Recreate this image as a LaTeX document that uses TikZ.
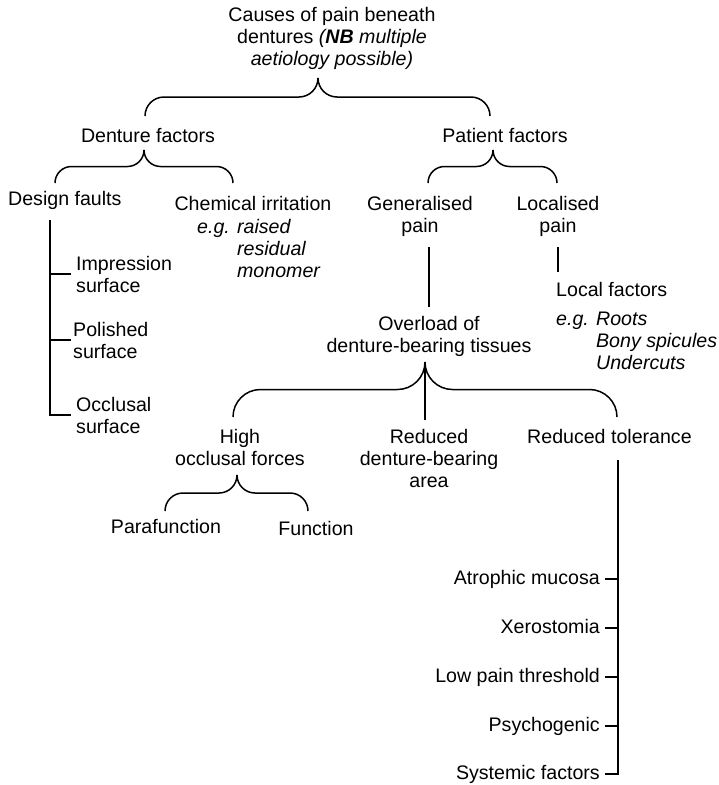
\documentclass[tikz,border=0pt]{standalone}
\usepackage{fontspec}
\setmainfont{Liberation Sans}
\usetikzlibrary{calc}

\begin{document}
\begin{tikzpicture}[
  x=1pt, y=-1pt,
  every node/.style={inner sep=0pt, font=\fontsize{19.6}{22}\selectfont},
  txt/.style={align=center, anchor=base},
  txtl/.style={align=left, anchor=base west},
  txtr/.style={anchor=east, text height=14pt, text depth=4pt},
  ln/.style={line width=1.5pt},
  brc/.style={ln, rounded corners=#1,
    to path={|- ($(\tikztotarget |- \tikztostart)!.5!(\tikztotarget)$) -- (\tikztotarget)}}
]
  \useasboundingbox (0,0) rectangle (719,785);

  % top level (multi-line nodes sit on their last baseline)
  \node[txt] (cause) at (332,65) {Causes of pain beneath\\dentures \textit{(\textbf{NB} multiple}\\\textit{aetiology possible)}};
  \node[txt] (dfac) at (148,142) {Denture factors};
  \node[txt] (pfac) at (505,142) {Patient factors};
  \coordinate (b1t) at (318,78);
  \coordinate (b1l) at (145,116);
  \coordinate (b1r) at (490,116);
  \draw[brc=19] (b1l) to (b1t) (b1r) to (b1t);

  % denture factors
  \coordinate (b2t) at (144,150);
  \coordinate (b2l) at (55,183);
  \coordinate (b2r) at (233,183);
  \draw[brc=16.5] (b2l) to (b2t) (b2r) to (b2t);
  \node[txtl] (design) at (8,205) {Design faults};
  \node[txt] (chem) at (253,210) {Chemical irritation};
  \node[anchor=base west] (chemeg) at (197,233) {\itshape\begin{tabular}[t]{@{}l@{ }l@{}}e.g. & raised\\ & residual\\ & monomer\end{tabular}};
  \node[txtl] (imp) at (76,292) {Impression\\surface};
  \node[txtl] (pol) at (73,358) {Polished\\surface};
  \node[txtl] (occ) at (76,433) {Occlusal\\surface};
  \coordinate (dsp) at (50,220);
  \draw[ln] (dsp) |- ([xshift=-5pt]occ.west);
  \draw[ln] (imp.west -| dsp) -- ([xshift=-5pt]imp.west);
  \draw[ln] (pol.west -| dsp) -- ([xshift=-2pt]pol.west);

  % patient factors
  \coordinate (b3t) at (493,150);
  \coordinate (b3l) at (428,183);
  \coordinate (b3r) at (557,183);
  \draw[brc=16.5] (b3l) to (b3t) (b3r) to (b3t);
  \node[txt] (gen) at (420,232) {Generalised\\pain};
  \node[txt] (loc) at (558,232) {Localised\\pain};
  \node[txtl] (locf) at (556,296) {Local factors};
  \node[anchor=base west] (loceg) at (556,325) {\itshape\begin{tabular}[t]{@{}l@{ }l@{}}e.g. & Roots\\ & Bony spicules\\ & Undercuts\end{tabular}};
  \draw[ln] ([yshift=-11pt]loc.south) -- ([yshift=10pt]loc.south |- locf.north);
  \node[txt] (ovl) at (429,352) {Overload of\\denture-bearing tissues};
  \draw[ln] ([yshift=-11pt]gen.south -| ovl.north) -- ([yshift=9pt]ovl.north);

  % overload
  \coordinate (b4t) at (425,362);
  \coordinate (b4l) at (233,417);
  \coordinate (b4r) at (617,417);
  \draw[brc=27.5] (b4l) to (b4t) (b4r) to (b4t);
  \node[txt] (high) at (240,465) {High\\occlusal forces};
  \node[txt] (red) at (429,487) {Reduced\\denture-bearing\\area};
  \node[txtl] (tol) at (527,443) {Reduced tolerance};
  \draw[ln] (b4t) -- ([yshift=9pt]b4t |- red.north);

  % high occlusal forces
  \coordinate (b5t) at (237,475);
  \coordinate (b5l) at (165,511);
  \coordinate (b5r) at (308,511);
  \draw[brc=18] (b5l) to (b5t) (b5r) to (b5t);
  \node[txt] (para) at (166,533) {Parafunction};
  \node[txt] (func) at (316,535) {Function};

  % reduced tolerance
  \node[txtr] (atr) at (600,579) {Atrophic mucosa};
  \node[txtr] (xer) at (600,628) {Xerostomia};
  \node[txtr] (low) at (600,677) {Low pain threshold};
  \node[txtr] (psy) at (600,726) {Psychogenic};
  \node[txtr] (sys) at (600,774) {Systemic factors};
  \coordinate (tsp) at (618,460);
  \draw[ln] (tsp) |- ([xshift=5pt]sys.east);
  \foreach \n in {atr,xer,low,psy}
    \draw[ln] ([xshift=5pt]\n.east) -- (\n.east -| tsp);
\end{tikzpicture}
\end{document}
